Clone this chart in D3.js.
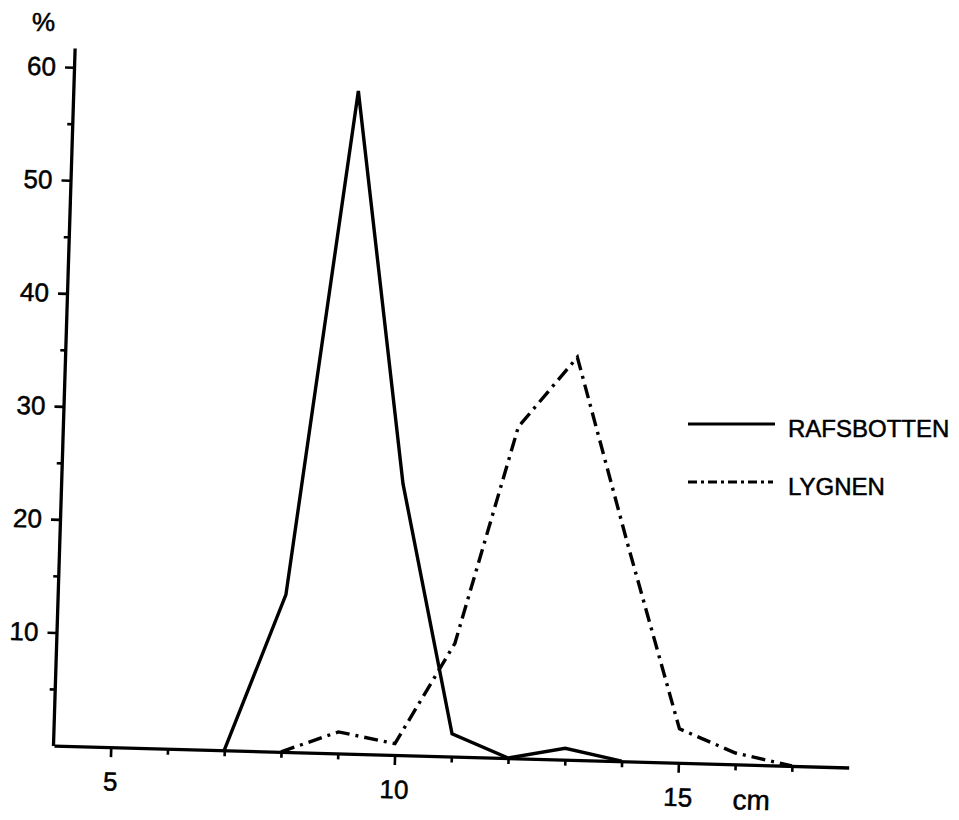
<!DOCTYPE html>
<html>
<head>
<meta charset="utf-8">
<script src="https://cdn.jsdelivr.net/npm/d3@7"></script>
<style>
  body { margin: 0; background: #fff; }
  text { font-family: "Liberation Sans", Arial, sans-serif; fill: #000; stroke: #000; stroke-width: 0.5px; }
</style>
</head>
<body>
<svg id="chart"></svg>
<script>
// length classes (cm) and percentage per class
const rafsLengths = [7, 8, 9, 10, 11, 12, 13, 14];
const rafsPercent = [0, 13.9, 58.6, 24, 2, 0, 1, 0];
const lygLengths = [8, 9, 10, 11, 12, 13, 14, 15, 16, 17];
const lygPercent = [0, 1.9, 1, 10, 29.3, 35.6, 19, 3, 1, 0];

const xTicks = d3.range(5, 18);
const xLabels = [5, 10, 15];
const yTicks = d3.range(5, 61, 5);
const yLabels = [10, 20, 30, 40, 50, 60];
const seriesNames = ["RAFSBOTTEN", "LYGNEN"];

const W = 959, H = 820;
const svg = d3.select("#chart").attr("width", W).attr("height", H);

// the original plot is slightly tilted, so the plot group is skewed a bit
const a = 0.0276, b = 0.031;
const g = svg.append("g")
  .attr("transform", `matrix(${Math.cos(a)},${Math.sin(a)},${-Math.sin(b)},${Math.cos(b)},53,745.5)`);

const x = d3.scaleLinear().domain([4, 18]).range([1, 796]);
const y = d3.scaleLinear().domain([0, 61.7]).range([0, -697.8]);

// x axis
const xAxis = g.append("g")
  .call(d3.axisBottom(x).tickValues(xTicks).tickSize(10).tickSizeOuter(0).tickPadding(15)
    .tickFormat(d => xLabels.includes(d) ? d : ""));
xAxis.select(".domain").attr("stroke-width", 3.3);
xAxis.selectAll(".tick line")
  .attr("stroke-width", 2.6)
  .attr("y2", d => xLabels.includes(d) ? 10 : 6);
xAxis.selectAll(".tick text").attr("font-size", 26).attr("font-family", null).attr("fill", null);

// y axis
const yAxis = g.append("g")
  .call(d3.axisLeft(y).tickValues(yTicks).tickSize(9).tickSizeOuter(0).tickPadding(9)
    .tickFormat(d => yLabels.includes(d) ? d : ""));
yAxis.select(".domain").attr("stroke-width", 3.3);
yAxis.selectAll(".tick line")
  .attr("stroke-width", 2.6)
  .attr("x2", d => yLabels.includes(d) ? -9 : -5);
yAxis.selectAll(".tick text").attr("font-size", 26).attr("font-family", null).attr("fill", null);

// unit labels
g.append("text")
  .attr("x", x(16.3))
  .attr("y", 25)
  .attr("dy", "0.71em")
  .attr("text-anchor", "middle")
  .attr("font-size", 28)
  .text("cm");

svg.append("text")
  .attr("x", 32)
  .attr("y", 31)
  .attr("font-size", 26)
  .text("%");

const line = d3.line()
  .x(d => x(d[0]))
  .y(d => y(d[1]));

g.append("path")
  .datum(rafsLengths.map((l, i) => [l, rafsPercent[i]]))
  .attr("fill", "none")
  .attr("stroke", "#000")
  .attr("stroke-width", 3.4)
  .attr("d", line);

g.append("path")
  .datum(lygLengths.map((l, i) => [l, lygPercent[i]]))
  .attr("fill", "none")
  .attr("stroke", "#000")
  .attr("stroke-width", 3.4)
  .attr("stroke-dasharray", "14,6,3,6")
  .attr("d", line);

// legend
const legend = svg.append("g").attr("transform", "translate(688,424)");
const dashes = [null, "9,4,3,4"];
seriesNames.forEach((name, i) => {
  const row = legend.append("g").attr("transform", `translate(0,${i * 58})`);
  row.append("line")
    .attr("x1", 0).attr("x2", i ? 85 : 87)
    .attr("stroke", "#000")
    .attr("stroke-width", 2.8)
    .attr("stroke-dasharray", dashes[i]);
  row.append("text")
    .attr("x", 100)
    .attr("y", 13)
    .attr("font-size", 24)
    .text(name);
});
</script>
</body>
</html>
